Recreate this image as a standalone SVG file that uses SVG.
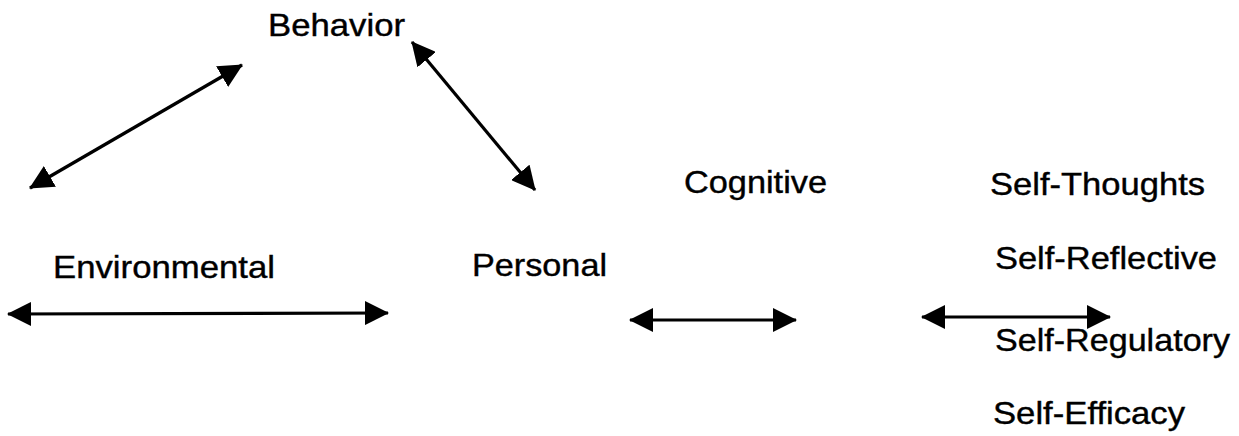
<svg xmlns="http://www.w3.org/2000/svg" width="1239" height="436" viewBox="0 0 1239 436">
<defs>
<marker id="ah" markerUnits="userSpaceOnUse" markerWidth="24" markerHeight="24" refX="23" refY="12" orient="auto-start-reverse" viewBox="0 0 24 24">
<path d="M0,0 L24,12 L0,24 z" fill="#000"/>
</marker>
<style>
.lbl{font-family:"Liberation Sans",Arial,sans-serif;font-size:32px;fill:#000;stroke:#000;stroke-width:0.4}
.arr{stroke:#000;stroke-width:3.2;fill:none;marker-start:url(#ah);marker-end:url(#ah)}
</style>
</defs>
<rect width="1239" height="436" fill="#fff"/>
<g id="behavior"><text class="lbl" x="268" y="36" textLength="137" lengthAdjust="spacingAndGlyphs">Behavior</text></g>
<g id="environmental"><text class="lbl" x="53" y="278" textLength="222" lengthAdjust="spacingAndGlyphs">Environmental</text></g>
<g id="personal"><text class="lbl" x="472" y="276" textLength="135" lengthAdjust="spacingAndGlyphs">Personal</text></g>
<g id="cognitive"><text class="lbl" x="684" y="193" textLength="143" lengthAdjust="spacingAndGlyphs">Cognitive</text></g>
<g id="self-thoughts"><text class="lbl" x="990" y="195" textLength="215" lengthAdjust="spacingAndGlyphs">Self-Thoughts</text></g>
<g id="self-reflective"><text class="lbl" x="995" y="269" textLength="222" lengthAdjust="spacingAndGlyphs">Self-Reflective</text></g>
<g id="self-regulatory"><text class="lbl" x="995" y="351" textLength="235" lengthAdjust="spacingAndGlyphs">Self-Regulatory</text></g>
<g id="self-efficacy"><text class="lbl" x="993" y="424" textLength="192" lengthAdjust="spacingAndGlyphs">Self-Efficacy</text></g>
<g id="connectors">
<line class="arr" x1="30" y1="188" x2="242" y2="65"/>
<line class="arr" x1="412" y1="42" x2="535" y2="190"/>
<line class="arr" x1="8" y1="314" x2="388" y2="313"/>
<line class="arr" x1="630" y1="320" x2="796" y2="320"/>
<line class="arr" x1="922" y1="317" x2="1110" y2="317"/>
</g>
</svg>
